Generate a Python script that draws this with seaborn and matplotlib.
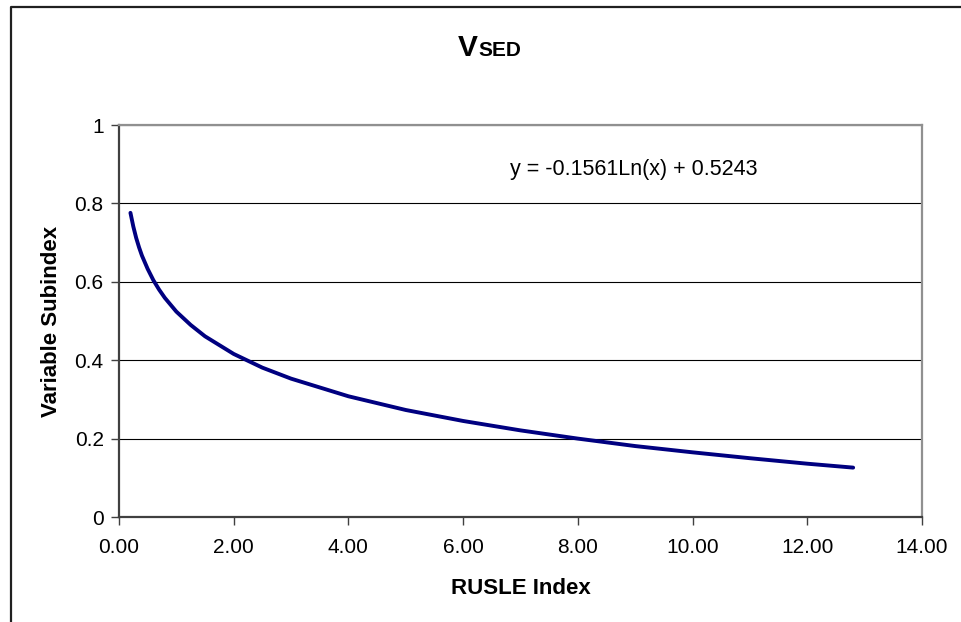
import numpy as np
import pandas as pd
import matplotlib
matplotlib.use('Agg')
import matplotlib.pyplot as plt
import seaborn as sns
from matplotlib.lines import Line2D

# values
rusle = [0.2, 0.25, 0.3, 0.35, 0.4, 0.5, 0.6, 0.7, 0.8, 1.0, 1.25, 1.5, 2.0, 2.5,
         3.0, 4.0, 5.0, 6.0, 7.0, 8.0, 9.0, 10.0, 11.0, 12.0, 12.8]
subindex = [0.776, 0.741, 0.712, 0.688, 0.667, 0.633, 0.604, 0.580, 0.559, 0.524,
            0.490, 0.461, 0.416, 0.381, 0.353, 0.308, 0.273, 0.245, 0.221, 0.200,
            0.181, 0.165, 0.150, 0.136, 0.126]
x_ticks = [0, 2, 4, 6, 8, 10, 12, 14]
y_ticks = [0, 0.2, 0.4, 0.6, 0.8, 1.0]
equation = 'y = -0.1561Ln(x) + 0.5243'

d = pd.DataFrame({'RUSLE Index': rusle, 'Variable Subindex': subindex})

sns.set_style('white')
plt.rcParams['font.family'] = ['Liberation Sans', 'DejaVu Sans']
plt.rcParams['text.color'] = 'black'
plt.rcParams['axes.labelcolor'] = 'black'

fig = plt.figure(figsize=(9.61, 6.22), dpi=100)
ax = fig.add_axes([0.1238, 0.1688, 0.8356, 0.6302])

sns.lineplot(x='RUSLE Index', y='Variable Subindex', data=d, ax=ax,
             color='#000080', linewidth=2.8, sort=False,
             solid_capstyle='round', solid_joinstyle='round')

ax.set_xlim(0, 14)
ax.set_ylim(0, 1)
ax.set_xticks(x_ticks)
ax.set_xticklabels(['%.2f' % v for v in x_ticks])
ax.set_yticks(y_ticks)
ax.set_yticklabels(['0', '0.2', '0.4', '0.6', '0.8', '1'])
ax.tick_params(axis='both', direction='out', length=6, width=1, color='#404040',
               labelsize=15, labelcolor='black', bottom=True, left=True)
ax.tick_params(axis='x', pad=9)
ax.tick_params(axis='y', pad=5)
ax.yaxis.grid(True, color='black', linewidth=0.8)
ax.xaxis.grid(False)

for side in ['left', 'bottom']:
    ax.spines[side].set_color('#404040')
    ax.spines[side].set_linewidth(1.6)
for side in ['top', 'right']:
    ax.spines[side].set_color('#909090')
    ax.spines[side].set_linewidth(1.6)
    ax.spines[side].set_visible(True)

ax.set_xlabel('RUSLE Index', fontsize=16, fontweight='bold')
ax.set_ylabel('Variable Subindex', fontsize=16, fontweight='bold')
ax.xaxis.set_label_coords(0.5, -0.156)
ax.yaxis.set_label_coords(-0.071, 0.5)

ax.text(8.97, 0.887, equation, fontsize=15.5, ha='center', va='center')

# title with small caps look
fig.text(0.4974, 0.9105, 'V', fontsize=21.5, fontweight='bold', ha='right', va='baseline')
fig.text(0.4974, 0.9105, 'SED', fontsize=15, fontweight='bold', ha='left', va='baseline')

# outer chart border
fig.add_artist(Line2D([0.0114, 0.0114, 1.0], [0.0, 0.9887, 0.9887],
                      transform=fig.transFigure, color='#202020', linewidth=1.6))

fig.savefig('out.png', dpi=100)
